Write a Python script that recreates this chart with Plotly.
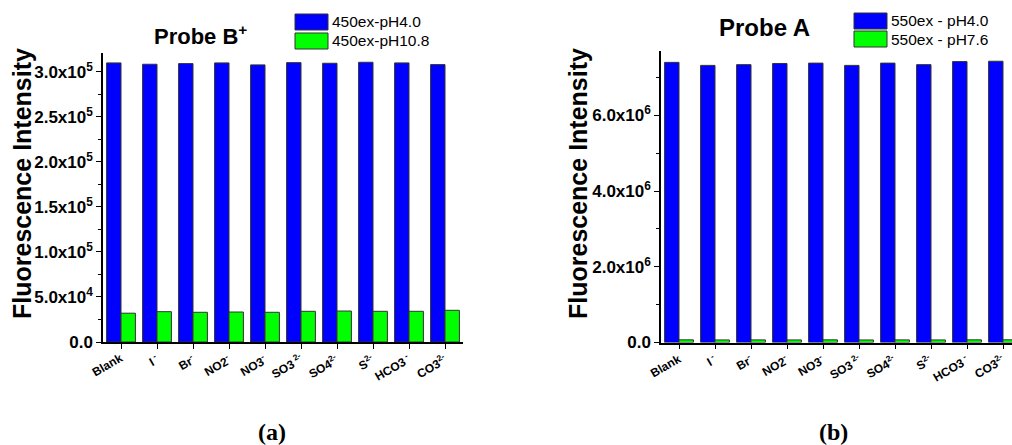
import plotly.graph_objects as go

# ---------------- data ----------------
categories = ["Blank", "I-", "Br-", "NO2-", "NO3-", "SO3 2-", "SO4 2-", "S 2-", "HCO3 -", "CO3 2-"]
tick_labels = ["Blank", "I<sup> -</sup>", "Br<sup>-</sup>", "NO2<sup>-</sup>", "NO3<sup>-</sup>",
               "SO3<sup> 2-</sup>", "SO4<sup>2-</sup>", "S<sup>2-</sup>", "HCO3<sup> -</sup>", "CO3<sup>2-</sup>"]

probeB_450ex_pH40 = [3.100e5, 3.085e5, 3.092e5, 3.100e5, 3.078e5, 3.103e5, 3.096e5, 3.107e5, 3.100e5, 3.081e5]
probeB_450ex_pH108 = [3.20e4, 3.37e4, 3.30e4, 3.33e4, 3.30e4, 3.41e4, 3.44e4, 3.41e4, 3.41e4, 3.52e4]

probeA_550ex_pH40 = [7.40e6, 7.32e6, 7.34e6, 7.37e6, 7.38e6, 7.32e6, 7.38e6, 7.34e6, 7.42e6, 7.43e6]
probeA_550ex_pH76 = [7.0e4, 6.8e4, 6.9e4, 6.8e4, 7.0e4, 6.7e4, 6.9e4, 6.8e4, 7.0e4, 7.1e4]

left_yticks = [0, 5e4, 1e5, 1.5e5, 2e5, 2.5e5, 3e5]
left_yticktext = ["0.0", "5.0x10<sup>4</sup>", "1.0x10<sup>5</sup>", "1.5x10<sup>5</sup>",
                  "2.0x10<sup>5</sup>", "2.5x10<sup>5</sup>", "3.0x10<sup>5</sup>"]
left_yminor = [2.5e4, 7.5e4, 1.25e5, 1.75e5, 2.25e5, 2.75e5]

right_yticks = [0, 2e6, 4e6, 6e6]
right_yticktext = ["0.0", "2.0x10<sup>6</sup>", "4.0x10<sup>6</sup>", "6.0x10<sup>6</sup>"]
right_yminor = [1e6, 3e6, 5e6, 7e6]

# ---------------- figure ----------------
W, H = 1012, 445
BLUE = "#0000FF"
GREEN = "#00FF00"
EDGE = "#333333"
SANS = "Liberation Sans, Arial, sans-serif"

def px(x):
    return x / W

def py(y):
    return 1 - y / H

xpos = list(range(len(categories)))
x_boundaries = [i + 0.5 for i in range(len(categories) - 1)]

fig = go.Figure()
fig.add_trace(go.Bar(x=xpos, y=probeB_450ex_pH40, name="450ex-pH4.0", marker=dict(color=BLUE, line=dict(color=EDGE, width=1)),
                     xaxis="x", yaxis="y", showlegend=False))
fig.add_trace(go.Bar(x=xpos, y=probeB_450ex_pH108, name="450ex-pH10.8", marker=dict(color=GREEN, line=dict(color=EDGE, width=1)),
                     xaxis="x", yaxis="y", showlegend=False))
fig.add_trace(go.Bar(x=xpos, y=probeA_550ex_pH40, name="550ex - pH4.0", marker=dict(color=BLUE, line=dict(color=EDGE, width=1)),
                     xaxis="x2", yaxis="y2", showlegend=False))
fig.add_trace(go.Bar(x=xpos, y=probeA_550ex_pH76, name="550ex - pH7.6", marker=dict(color=GREEN, line=dict(color=EDGE, width=1)),
                     xaxis="x2", yaxis="y2", showlegend=False))

tickfont_y = dict(family=SANS, size=17, color="black", weight="bold")
xlabel_font = dict(family=SANS, size=12, color="black", weight="bold")

xaxis_common = dict(
    type="linear", tickmode="array", tickvals=xpos, showticklabels=False,
    ticks="outside", ticklen=5, tickwidth=1.2, tickcolor="black",
    showline=True, linecolor="black", linewidth=1.5, showgrid=False, zeroline=False,
    automargin=False,
)
# overlay axes carrying only the boundary (minor) ticks
xminor_common = dict(
    type="linear", tickmode="array", tickvals=x_boundaries, showticklabels=False,
    ticks="outside", ticklen=3, tickwidth=1, tickcolor="black",
    showline=False, showgrid=False, zeroline=False, automargin=False,
)
yaxis_common = dict(
    tickmode="array", ticks="outside", ticklen=5, tickwidth=1.2, tickcolor="black",
    showline=True, linecolor="black", linewidth=1.5, showgrid=False, zeroline=False,
    tickfont=tickfont_y, automargin=False,
)

LEFT_BOTTOM = 342
RIGHT_BOTTOM = 342.5

fig.update_layout(
    width=W, height=H, margin=dict(l=0, r=0, t=0, b=0, autoexpand=False),
    paper_bgcolor="white", plot_bgcolor="white",
    barmode="group", bargap=0.2, bargroupgap=0,
    xaxis=dict(domain=[px(103), px(463)], range=[-0.5, 9.5], anchor="y", **xaxis_common),
    yaxis=dict(domain=[py(LEFT_BOTTOM), py(53)], range=[0, 3.21e5], anchor="x",
               tickvals=left_yticks, ticktext=left_yticktext,
               minor=dict(tickvals=left_yminor, ticks="outside", ticklen=3, tickcolor="black", tickwidth=1),
               **yaxis_common),
    xaxis2=dict(domain=[px(661), 1], range=[-0.5, 9.25], anchor="y2", **xaxis_common),
    yaxis2=dict(domain=[py(RIGHT_BOTTOM), py(51)], range=[0, 7.7e6], anchor="x2",
                tickvals=right_yticks, ticktext=right_yticktext,
                minor=dict(tickvals=right_yminor, ticks="outside", ticklen=3, tickcolor="black", tickwidth=1),
                **yaxis_common),
    xaxis3=dict(overlaying="x", anchor="y", side="bottom", range=[-0.5, 9.5], **xminor_common),
    xaxis4=dict(overlaying="x2", anchor="y2", side="bottom", range=[-0.5, 9.25], **xminor_common),
    showlegend=False,
)

annotations = []
shapes = []

# rotated category labels, placed through each x axis
for xref, bottom in (("x", LEFT_BOTTOM), ("x2", RIGHT_BOTTOM)):
    for xv, lab in zip(xpos, tick_labels):
        annotations.append(dict(text=lab, x=xv, y=py(bottom), xref=xref, yref="paper",
                                xanchor="right", yanchor="top", xshift=7, yshift=-6,
                                textangle=-30, showarrow=False, font=xlabel_font))

# titles
annotations.append(dict(text="Probe B<sup>+</sup>", x=px(200), y=py(35), xref="paper", yref="paper",
                        xanchor="center", yanchor="middle", showarrow=False,
                        font=dict(family=SANS, size=22, color="black", weight="bold")))
annotations.append(dict(text="Probe A", x=px(764), y=py(28), xref="paper", yref="paper",
                        xanchor="center", yanchor="middle", showarrow=False,
                        font=dict(family=SANS, size=24, color="black", weight="bold")))

# y axis titles
for xc in (22, 578):
    annotations.append(dict(text="Fluorescence Intensity", x=px(xc), y=py(184), xref="paper", yref="paper",
                            xanchor="center", yanchor="middle", showarrow=False, textangle=-90,
                            font=dict(family=SANS, size=25, color="black", weight="bold")))

# legends (drawn manually)
legend_items = [
    (295, 328, 14, 30, BLUE, "450ex-pH4.0"),
    (295, 328, 33, 49, GREEN, "450ex-pH10.8"),
    (854, 887, 13, 29, BLUE, "550ex - pH4.0"),
    (854, 887, 31, 47, GREEN, "550ex - pH7.6"),
]
for x0, x1, y0, y1, col, label in legend_items:
    shapes.append(dict(type="rect", xref="paper", yref="paper", x0=px(x0), x1=px(x1), y0=py(y1), y1=py(y0),
                       fillcolor=col, line=dict(color=EDGE, width=1)))
    annotations.append(dict(text=label, x=px(x1 + 2), y=py((y0 + y1) / 2), xref="paper", yref="paper",
                            xanchor="left", yanchor="middle", showarrow=False,
                            font=dict(family=SANS, size=15.5, color="black")))

# panel captions
SERIF = "Liberation Serif, Times New Roman, serif"
annotations.append(dict(text="(a)", x=px(272), y=py(432), xref="paper", yref="paper",
                        xanchor="center", yanchor="middle", showarrow=False,
                        font=dict(family=SERIF, size=24, color="black", weight="bold")))
annotations.append(dict(text="(b)", x=px(833), y=py(432), xref="paper", yref="paper",
                        xanchor="center", yanchor="middle", showarrow=False,
                        font=dict(family=SERIF, size=24, color="black", weight="bold")))

fig.update_layout(annotations=annotations, shapes=shapes)

fig.write_html("out.html", config={"displayModeBar": False},
               post_script="document.body.style.margin='0';document.body.style.padding='0';document.body.style.overflow='hidden';")
